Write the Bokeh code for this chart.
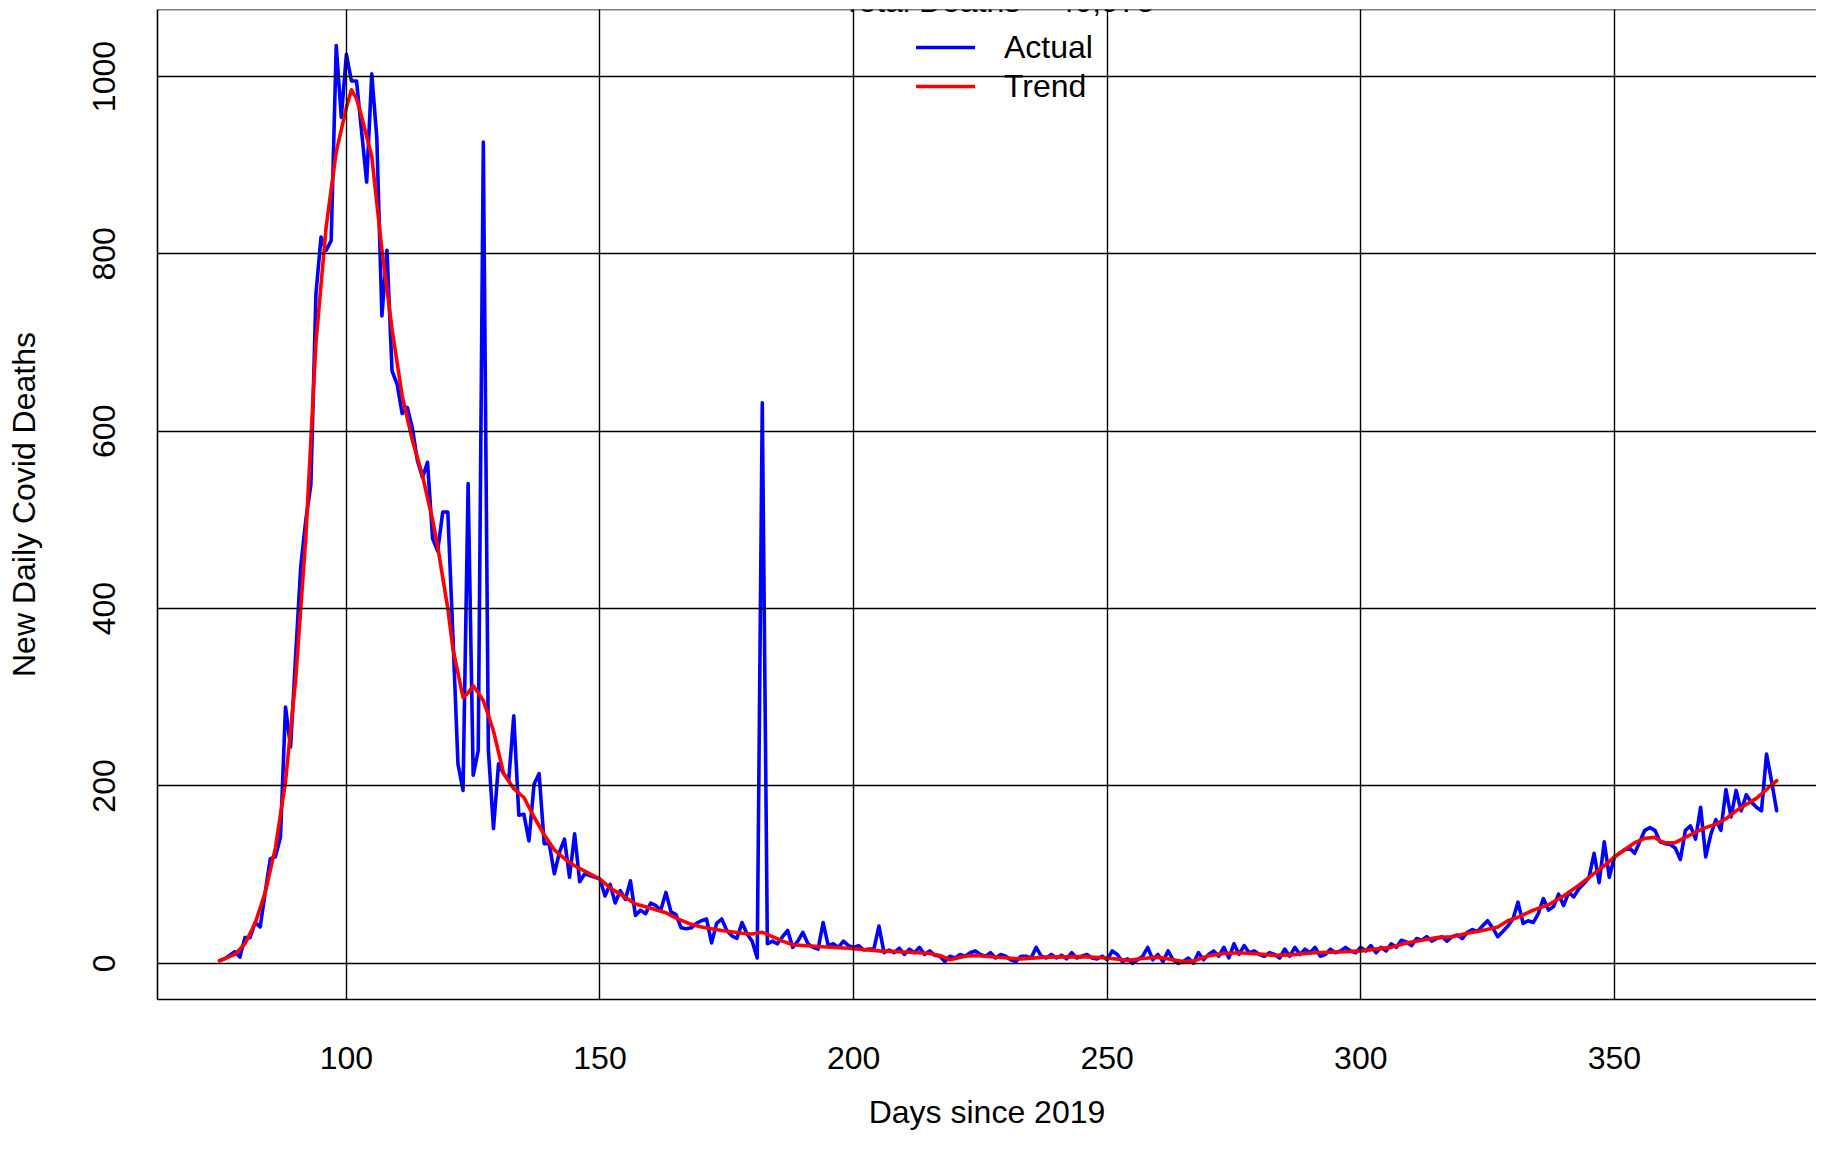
from bokeh.plotting import figure
from bokeh.models import Range1d, FixedTicker, Span, Legend, LegendItem, Label
from bokeh.embed import file_html
from bokeh.resources import INLINE

FONT = "Liberation Sans"

# ---------------- data ----------------
title_text = "Total Deaths = 40,975"
start_day = 75
deaths_rise = [3, 5, 9, 13, 7, 29, 29, 46, 41, 80, 118, 120, 142, 289, 244, 347, 447, 500, 540]
deaths_peak = [755, 819, 804, 815, 1035, 954, 1025, 995, 995, 938, 881, 1003, 931, 730, 804,
               668, 653, 620, 627, 604, 567, 548, 565, 479, 465, 509, 509, 370, 225, 195,
               541, 212, 240, 926, 240, 152, 225, 214, 206, 279, 167, 168, 138]
deaths_decline = [202, 214, 135, 135, 101, 125, 140, 97, 146, 92, 101, 99, 97, 95, 76, 89, 68, 82,
                  72, 93, 54, 60, 56, 68, 65, 60, 80, 58, 55, 40, 39, 40, 45, 48, 50, 23, 45, 50,
                  37, 31, 28, 46, 33, 25, 6, 632, 22, 25, 22, 30, 37, 18, 25, 35, 22, 18, 16, 46,
                  20, 22, 18, 25, 20, 18]
deaths_summer = [20, 15, 16, 16, 42, 12, 15, 12, 17, 10, 16, 12, 18, 10, 14, 9, 8, 2, 8, 6,
                 10, 8, 12, 14, 10, 8, 12, 6, 10, 8, 4, 2, 8, 8, 6, 18, 8, 6, 10, 6,
                 9, 5, 12, 6, 8, 10, 6, 5, 8, 4, 14, 10, 2, 5, 0, 4, 8, 18, 4, 10]
deaths_autumn = [2, 14, 4, 0, 2, 6, 0, 12, 4, 10, 14, 8, 18, 6, 22, 10, 20, 12, 14, 10,
                 8, 12, 10, 6, 16, 8, 18, 10, 16, 12, 18, 8, 10, 16, 12, 14, 18, 14, 12, 18,
                 14, 20, 12, 18, 14, 22, 18, 26, 24, 20, 28, 26, 30, 25, 28, 30, 25, 30, 32, 28]
deaths_winter = [35, 38, 36, 42, 48, 40, 30, 36, 42, 50, 69, 45, 48, 46, 56, 73, 60, 64, 78,
                 65, 80, 75, 84, 90, 97, 124, 91, 137, 97, 120, 124, 128, 130, 124, 137, 150,
                 153, 150, 137, 135, 134, 130, 117, 150, 155, 140, 176, 120, 145, 162, 150, 196,
                 165, 195, 172, 190, 182, 176, 172, 236, 205, 172]
deaths = deaths_rise + deaths_peak + deaths_decline + deaths_summer + deaths_autumn + deaths_winter
days = list(range(start_day, start_day + len(deaths)))

trend_days = [75, 78, 80, 82, 84, 86, 88, 90, 92, 94, 96, 98, 100, 101, 102, 103, 105, 107, 109,
              111, 113, 115, 117, 118, 120, 121, 123, 124, 125, 126, 127, 128, 129, 131, 133, 135,
              137, 139, 141, 143, 145, 147, 150, 152, 154, 157, 160, 163, 165, 168, 170, 174, 178,
              180, 182, 184, 186, 188, 193, 199, 205, 211, 215, 217, 219, 222, 224, 229, 233, 238,
              245, 250, 254, 257, 260, 263, 265, 267, 270, 273, 276, 280, 283, 286, 288, 291, 294,
              297, 300, 303, 306, 309, 312, 315, 318, 321, 324, 327, 329, 331, 334, 337, 340, 343,
              345, 348, 350, 352, 354, 356, 358, 359, 360, 362, 364, 366, 368, 370, 372, 374, 376,
              378, 380, 382]
trend_vals = [3, 10, 22, 45, 80, 130, 205, 320, 480, 700, 830, 915, 965, 985, 975, 955, 910, 805,
              715, 640, 590, 550, 500, 470, 400, 355, 300, 305, 313, 305, 296, 280, 262, 214, 197,
              187, 165, 145, 128, 118, 110, 104, 95, 85, 78, 67, 62, 57, 51, 44, 41, 37, 34, 33, 35,
              30, 25, 21, 19, 17, 14, 12.5, 11, 8.8, 4, 8, 9, 6.5, 5, 7, 7.5, 6, 3.5, 5.5, 7, 4, 2,
              2.5, 8.5, 11, 12, 10.5, 9, 9.5, 10.6, 12, 12.5, 13, 14, 16, 18, 23, 26, 29, 30, 34,
              37, 41, 48, 52, 60, 66, 76, 88, 97, 110, 120, 128, 136, 141, 142, 138, 136, 136, 142,
              148, 153, 157, 163, 172, 179, 186, 196, 206]

x_ticks = [100, 150, 200, 250, 300, 350]
y_ticks = [0, 200, 400, 600, 800, 1000]

# ---------------- figure ----------------
p = figure(width=1816, height=1134, output_backend="svg", toolbar_location=None,
           x_range=Range1d(62.76, 389.85), y_range=Range1d(-40.8, 1075.6),
           min_border_left=157, min_border_right=0, min_border_top=9, min_border_bottom=135)
p.outline_line_color = None
p.background_fill_color = "white"
p.border_fill_color = "white"

r_actual = p.line(days, deaths, line_color="#0000FF", line_width=3.6,
                  line_join="round", line_cap="round")
r_trend = p.line(trend_days, trend_vals, line_color="#FF0000", line_width=3.6,
                 line_join="round", line_cap="round")

for ax, ticks in ((p.xaxis, x_ticks), (p.yaxis, y_ticks)):
    ax.ticker = FixedTicker(ticks=ticks)
    ax.major_tick_in = 0
    ax.major_tick_out = 0
    ax.minor_tick_in = 0
    ax.minor_tick_out = 0
    ax.axis_line_color = "black"
    ax.axis_line_width = 1.6
    ax.major_label_text_font = FONT
    ax.major_label_text_font_size = "32px"
    ax.major_label_text_color = "black"
    ax.axis_label_text_font = FONT
    ax.axis_label_text_font_size = "32px"
    ax.axis_label_text_font_style = "normal"
    ax.axis_label_text_color = "black"

p.xaxis.axis_label = "Days since 2019"
p.yaxis.axis_label = "New Daily Covid Deaths"
p.yaxis.major_label_orientation = "vertical"
p.xaxis.major_label_standoff = 47
p.xaxis.axis_label_standoff = 22
p.yaxis.major_label_standoff = 42
p.yaxis.axis_label_standoff = 49

for g in (p.xgrid, p.ygrid):
    g.grid_line_color = "black"
    g.grid_line_width = 1.4
    g.grid_line_alpha = 1.0
    g.level = "overlay"

top_border = Span(location=1075.6, dimension="width", line_color="black", line_width=1.6)
p.add_layout(top_border)

# title: as in the reference, only its lower edge falls inside the picture
title = Label(x=841, y=999, x_units="screen", y_units="screen", text=title_text,
              text_align="center", text_baseline="alphabetic", text_font=FONT,
              text_font_size="32px", text_color="black")
p.add_layout(title)

legend = Legend(items=[LegendItem(label="Actual", renderers=[r_actual]),
                       LegendItem(label="Trend", renderers=[r_trend])],
                location=(759, 894.5), border_line_color=None, background_fill_alpha=0,
                padding=0, margin=0, spacing=2, glyph_width=59, glyph_height=36,
                label_standoff=29, label_height=36, label_text_font=FONT,
                label_text_font_size="32px", label_text_color="black")
p.add_layout(legend)

open("out.html", "w").write(file_html(p, INLINE))
